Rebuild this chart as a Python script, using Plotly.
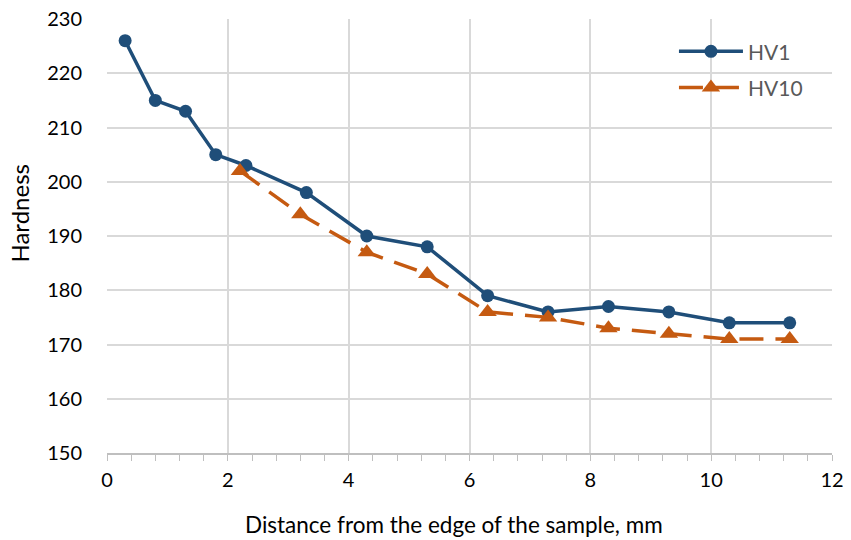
import plotly.graph_objects as go

hv1_x = [0.3, 0.8, 1.3, 1.8, 2.3, 3.3, 4.3, 5.3, 6.3, 7.3, 8.3, 9.3, 10.3, 11.3]
hv1_y = [226, 215, 213, 205, 203, 198, 190, 188, 179, 176, 177, 176, 174, 174]
hv10_x = [2.2, 3.2, 4.3, 5.3, 6.3, 7.3, 8.3, 9.3, 10.3, 11.3]
hv10_y = [202, 194, 187, 183, 176, 175, 173, 172, 171, 171]

x_title = "Distance from the edge of the sample, mm"
y_title = "Hardness"

BLUE = "#1F4E79"
ORANGE = "#C55A11"
FONT = "Lato"
FS = 20

fig = go.Figure()
fig.add_trace(go.Scatter(x=hv1_x, y=hv1_y, name="HV1", mode="lines+markers", legendgroup="a",
                         line=dict(color=BLUE, width=3.5),
                         marker=dict(symbol="circle", size=13, color=BLUE)))
fig.add_trace(go.Scatter(x=hv10_x, y=hv10_y, name="HV10", mode="lines+markers", legendgroup="b",
                         line=dict(color=ORANGE, width=3.5, dash="24px,12px"),
                         marker=dict(symbol="triangle-up", size=16, color=ORANGE)))

fig.update_layout(
    width=851, height=540,
    margin=dict(l=107, r=19, t=19, b=87),
    paper_bgcolor="white", plot_bgcolor="white",
    font=dict(family=FONT, size=FS, color="#000000"),
    legend=dict(x=0.782, y=0.972, xanchor="left", yanchor="top",
                font=dict(size=21, color="#595959"), bgcolor="rgba(0,0,0,0)",
                tracegroupgap=6, itemwidth=64),
    showlegend=True,
    annotations=[
        dict(text=x_title, xref="paper", yref="paper", x=0.4793, y=-0.1636,
             xanchor="center", yanchor="middle", showarrow=False,
             font=dict(family=FONT, size=22.5, color="#000000")),
        dict(text=y_title, xref="paper", yref="paper", x=-0.12, y=0.5518, textangle=-90,
             xanchor="center", yanchor="middle", showarrow=False,
             font=dict(family=FONT, size=24, color="#000000")),
    ],
)
fig.update_xaxes(range=[0, 12], dtick=2, showgrid=True, gridcolor="#D9D9D9", gridwidth=1.5,
                 zeroline=False, showline=True, linecolor="#BFBFBF", linewidth=1.5,
                 ticks="outside", ticklen=6, tickcolor="#BFBFBF", automargin=False,
                 minor=dict(dtick=0.4, ticks="outside", ticklen=6, tickcolor="#BFBFBF", showgrid=False),
                 ticklabelstandoff=2, tickfont=dict(size=FS))
fig.update_yaxes(range=[150, 230], dtick=10, showgrid=True, gridcolor="#D9D9D9", gridwidth=1.5,
                 zeroline=False, showline=False, ticks="", automargin=False, ticklabelstandoff=24,
                 tickfont=dict(size=FS))

fig.write_html("out.html", config={"displayModeBar": False},
               post_script="document.body.style.margin='0';document.body.style.overflow='hidden';")
